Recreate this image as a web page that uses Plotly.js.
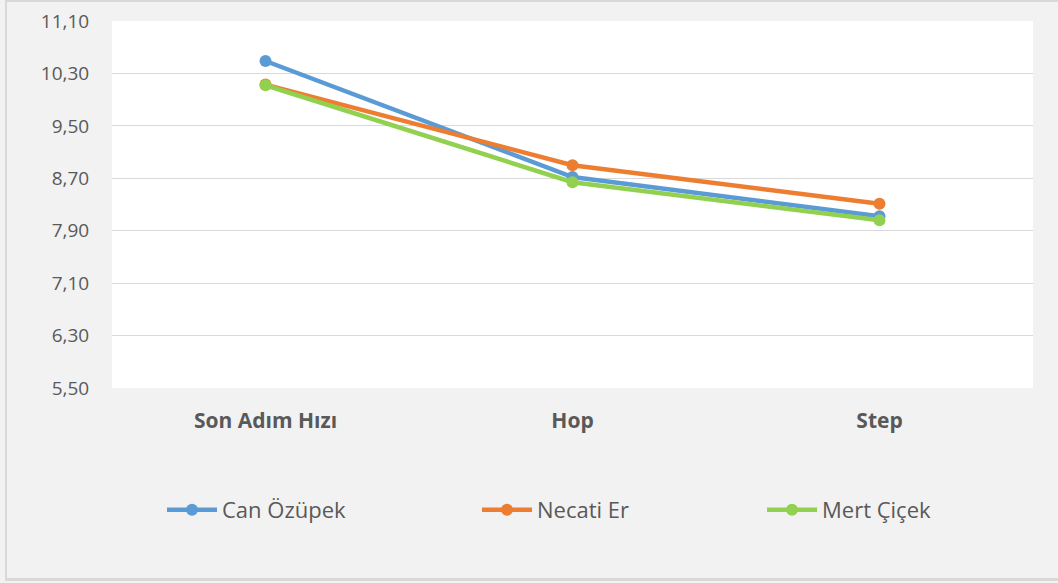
<!DOCTYPE html>
<html>
<head>
<meta charset="utf-8">
<script src="https://cdn.plot.ly/plotly-3.0.1.min.js"></script>
<style>
  html, body { margin: 0; padding: 0; background: #ffffff; }
  #wrap { position: relative; width: 1058px; height: 583px; }
  #chart { position: absolute; left: 0; top: 0; width: 1058px; height: 583px; }
  #frame { position: absolute; left: 5px; top: 0px; width: 1053px; height: 581px;
           border-top: 2px solid #d9d9d9; border-left: 2px solid #d9d9d9; border-bottom: 3px solid #d9d9d9;
           box-sizing: border-box; pointer-events: none; }
</style>
</head>
<body>
<div id="wrap">
  <div id="chart"></div>
  <div id="frame"></div>
</div>
<script>
const categories = ["Son Adım Hızı", "Hop", "Step"];
const seriesNames = ["Can Özüpek", "Necati Er", "Mert Çiçek"];
const canOzupek = [10.49, 8.72, 8.12];
const necatiEr = [10.13, 8.90, 8.31];
const mertCicek = [10.12, 8.64, 8.06];
const yTickVals = [5.50, 6.30, 7.10, 7.90, 8.70, 9.50, 10.30, 11.10];

const colors = ["#5b9bd5", "#ed7d31", "#92d050"];
const values = [canOzupek, necatiEr, mertCicek];
const legendIds = ["legend", "legend2", "legend3"];
const legendLeftPx = [162, 477, 762];

const traces = values.map((v, i) => ({
  type: "scatter",
  mode: "lines+markers",
  name: seriesNames[i],
  legend: legendIds[i],
  x: categories,
  y: v,
  line: { color: colors[i], width: 4.5 },
  marker: { color: colors[i], size: 12 }
}));

const plotLeft = 112, plotWidth = 921, plotBottom = 388, plotHeight = 367;

function legendCfg(i) {
  return {
    orientation: "h",
    x: (legendLeftPx[i] - plotLeft) / plotWidth,
    xanchor: "left",
    y: -(510 - plotBottom) / plotHeight,
    yanchor: "middle",
    itemwidth: 50,
    font: { size: 22, color: "#595959", family: "Open Sans, sans-serif" },
    bgcolor: "rgba(0,0,0,0)"
  };
}

const layout = {
  width: 1058,
  height: 583,
  paper_bgcolor: "#f2f2f2",
  plot_bgcolor: "#ffffff",
  separators: ",.",
  margin: { l: 112, r: 25, t: 21, b: 195 },
  font: { family: "Open Sans, sans-serif", color: "#595959" },
  xaxis: {
    type: "category",
    range: [-0.5, 2.5],
    showgrid: false,
    zeroline: false,
    showline: false,
    ticks: "outside",
    ticklen: 14,
    tickcolor: "rgba(0,0,0,0)",
    tickfont: { size: 21, color: "#595959", family: "Open Sans, sans-serif", weight: "bold" },
    fixedrange: true
  },
  yaxis: {
    range: [5.5, 11.1],
    tickvals: yTickVals,
    tickformat: ".2f",
    showgrid: true,
    gridcolor: "#d9d9d9",
    gridwidth: 1,
    zeroline: false,
    showline: false,
    ticks: "outside",
    ticklen: 18,
    tickcolor: "rgba(0,0,0,0)",
    tickfont: { size: 19, color: "#595959", family: "Open Sans, sans-serif" },
    fixedrange: true
  },
  showlegend: true,
  legend: legendCfg(0),
  legend2: legendCfg(1),
  legend3: legendCfg(2)
};

Plotly.newPlot("chart", traces, layout, { displayModeBar: false, staticPlot: true });
</script>
</body>
</html>
